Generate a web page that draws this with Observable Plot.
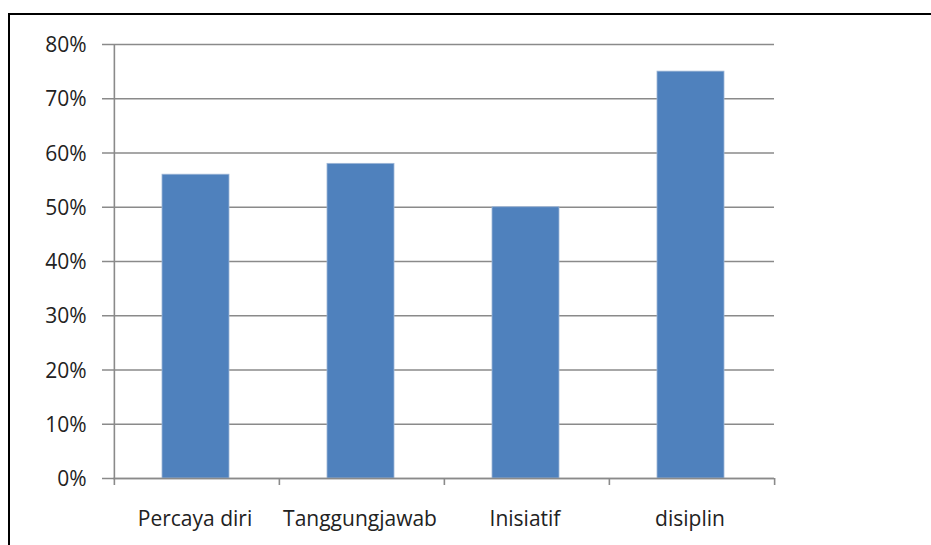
<!DOCTYPE html>
<html>
<head>
<meta charset="utf-8">
<script src="https://cdn.jsdelivr.net/npm/d3@7"></script>
<script src="https://cdn.jsdelivr.net/npm/@observablehq/plot@0.6"></script>
<style>
  html, body { margin: 0; padding: 0; background: #fff; }
  #wrap { position: relative; width: 931px; height: 545px; overflow: hidden; }
  #frame { position: absolute; left: 8px; top: 13px; width: 1000px; height: 600px;
           border-left: 2px solid #000; border-top: 2px solid #000; box-sizing: border-box; }
  #chart { position: absolute; left: 0; top: 0; }
</style>
</head>
<body>
<div id="wrap"><div id="frame"></div><div id="chart"></div></div>
<script>
const categories = ["Percaya diri", "Tanggungjawab", "Inisiatif", "disiplin"];
const values = [0.56, 0.58, 0.50, 0.75];
const yTicks = [0, 0.1, 0.2, 0.3, 0.4, 0.5, 0.6, 0.7, 0.8];

const data = categories.map((c, i) => ({category: c, value: values[i]}));

const W = 931, H = 545;
const mL = 113, mR = 157, mT = 44, mB = 67;
const step = (W - mL - mR) / categories.length;
const pad = 0.595;
const font = "'Open Sans', sans-serif";
const grid = "#8a8a8a";
const ink = "#222222";

const chart = Plot.plot({
  width: W,
  height: H,
  marginLeft: mL,
  marginRight: mR,
  marginTop: mT,
  marginBottom: mB,
  style: {fontFamily: font, fontSize: "21px", color: ink, background: "transparent", overflow: "visible"},
  x: {domain: categories, paddingInner: pad, paddingOuter: pad / 2, axis: null},
  y: {domain: [0, 0.8], axis: null},
  marks: [
    // horizontal gridlines with outward tick
    Plot.ruleY(yTicks, {stroke: grid, strokeWidth: 1.6, insetLeft: -11}),
    // y axis line
    Plot.ruleX([categories[0]], {dx: -step / 2, y1: 0, y2: 0.8, stroke: grid, strokeWidth: 1.6}),
    // y tick labels
    Plot.text(yTicks, {
      y: d => d, frameAnchor: "left", dx: -27, dy: 1, textAnchor: "end",
      text: d => d3.format(".0%")(d), fontSize: 21, fill: ink
    }),
    // bars
    Plot.barY(data, {x: "category", y: "value", fill: "#4F81BD", stroke: "#9db6d6", strokeWidth: 0.8, dx: -1}),
    // x axis baseline
    Plot.ruleY([0], {stroke: grid, strokeWidth: 1.6}),
    // category boundary ticks
    Plot.ruleX(categories, {dx: -step / 2, y1: 0, y2: 0, insetBottom: -7, stroke: grid, strokeWidth: 1.6}),
    Plot.ruleX([categories[categories.length - 1]], {dx: step / 2, y1: 0, y2: 0, insetBottom: -7, stroke: grid, strokeWidth: 1.6}),
    // category labels
    Plot.text(data, {x: "category", y: 0, dy: 41, dx: -2, text: "category", fontSize: 21, fill: ink})
  ]
});
document.getElementById("chart").appendChild(chart);
</script>
</body>
</html>
